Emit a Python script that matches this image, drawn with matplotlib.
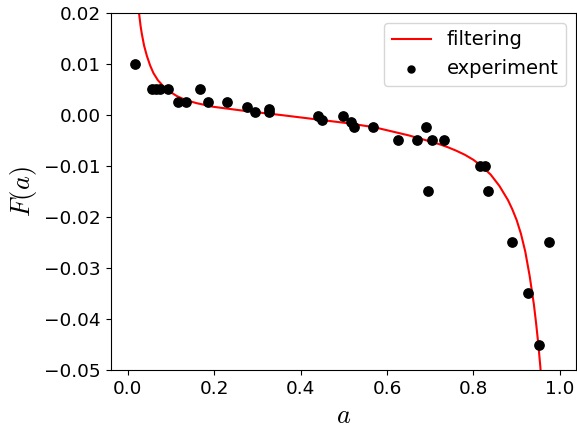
import matplotlib
matplotlib.use("Agg")
import matplotlib.pyplot as plt

plt.rcParams["mathtext.fontset"] = "cm"

# filtering curve
a_curve = [0.022, 0.0266, 0.03, 0.0328, 0.038, 0.0444, 0.052, 0.0597, 0.07, 0.0828,
           0.097, 0.1138, 0.135, 0.16, 0.198, 0.27, 0.353, 0.43, 0.507, 0.57,
           0.60, 0.65, 0.70, 0.72, 0.74, 0.76, 0.78, 0.80, 0.82, 0.84,
           0.86, 0.88, 0.89, 0.90, 0.91, 0.92, 0.93, 0.94, 0.945, 0.95,
           0.955, 0.96]
F_curve = [0.0242, 0.0198, 0.0174, 0.0159, 0.0136, 0.0116, 0.0097, 0.0082, 0.0068, 0.0056,
           0.0046, 0.0037, 0.0029, 0.0023, 0.0016, 0.0008, 0.0000, -0.0008, -0.0016, -0.0024,
           -0.0030, -0.0040, -0.0052, -0.0057, -0.0063, -0.0070, -0.0078, -0.0088, -0.0101, -0.0117,
           -0.0139, -0.0167, -0.0185, -0.0206, -0.0233, -0.0268, -0.0315, -0.0372, -0.0408, -0.0448,
           -0.0495, -0.0555]

# experiment points
a_exp = [0.017, 0.057, 0.066, 0.075, 0.094, 0.117, 0.135, 0.168, 0.187, 0.229,
         0.276, 0.295, 0.326, 0.328, 0.441, 0.449, 0.499, 0.516, 0.524, 0.568,
         0.626, 0.669, 0.690, 0.705, 0.732, 0.696, 0.816, 0.826, 0.833, 0.889,
         0.974, 0.927, 0.951]
F_exp = [0.010, 0.005, 0.005, 0.005, 0.005, 0.0025, 0.0025, 0.005, 0.0025, 0.0025,
         0.0016, 0.0006, 0.0011, 0.0005, -0.0003, -0.001, -0.0003, -0.0013, -0.0024, -0.0024,
         -0.0049, -0.0049, -0.0024, -0.0049, -0.0049, -0.015, -0.010, -0.010, -0.015, -0.025,
         -0.025, -0.035, -0.045]

fig = plt.figure(figsize=(5.77, 4.30), dpi=100)
ax = fig.add_axes([0.192, 0.1395, 0.806, 0.8305])

ax.plot(a_curve, F_curve, color="red", lw=1.5, label="filtering")
ax.scatter(a_exp, F_exp, color="black", s=45, zorder=3, label="experiment")

ax.set_xlim(-0.039, 1.037)
ax.set_ylim(-0.05, 0.02)
ax.set_xticks([0.0, 0.2, 0.4, 0.6, 0.8, 1.0])
ax.tick_params(labelsize=13.3)
ax.set_xlabel("$a$", fontsize=19)
ax.set_ylabel("$F(a)$", fontsize=19)
ax.legend(loc="upper right", fontsize=14, scatterpoints=1, markerscale=0.75)

fig.savefig("out.png", dpi=100)
